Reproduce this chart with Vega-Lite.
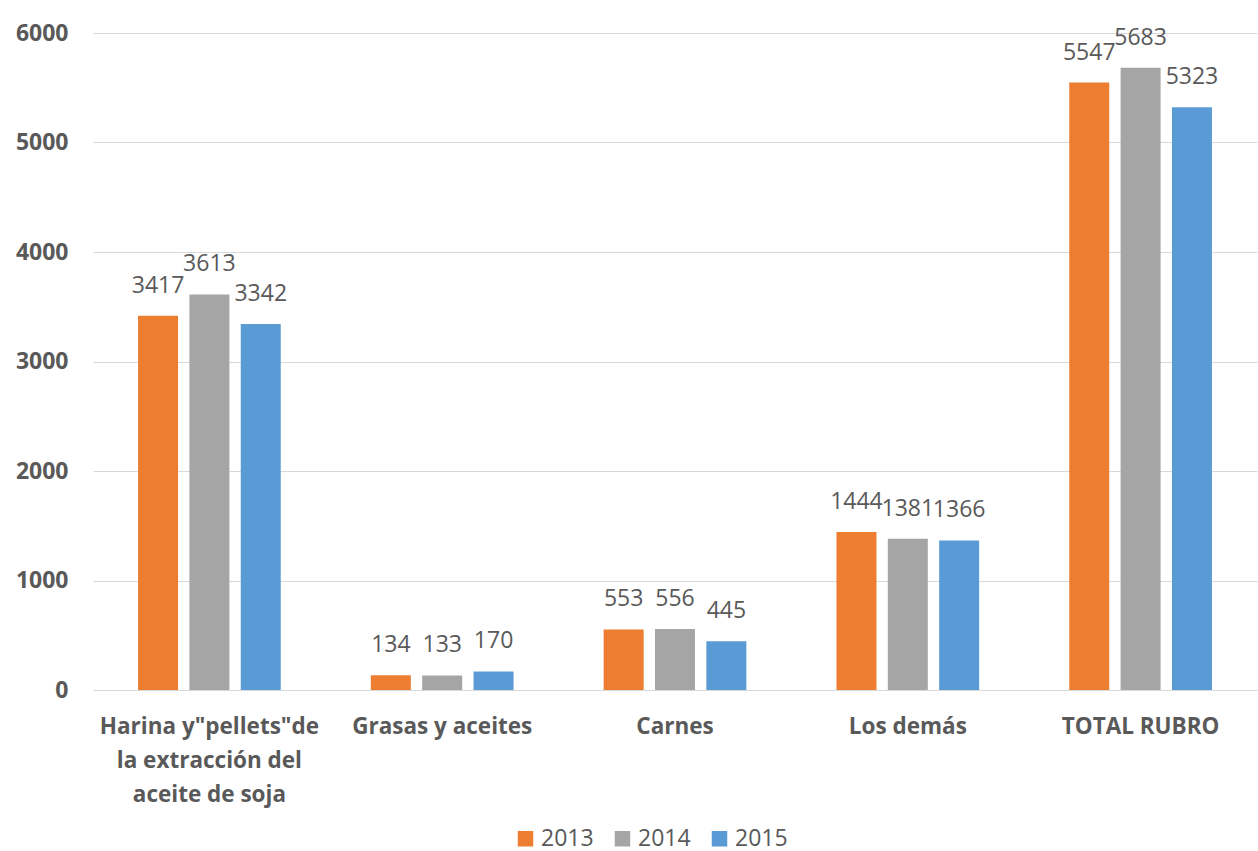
{
  "$schema": "https://vega.github.io/schema/vega-lite/v6.json",
  "width": 1164,
  "height": 657,
  "autosize": {"type": "none"},
  "padding": {"left": 93, "top": 33, "right": 1, "bottom": 161},
  "background": "white",
  "data": {
    "values": [
      {"rubro": "Harina y\"pellets\"de la extracción del aceite de soja", "year": "2013", "value": 3417},
      {"rubro": "Harina y\"pellets\"de la extracción del aceite de soja", "year": "2014", "value": 3613},
      {"rubro": "Harina y\"pellets\"de la extracción del aceite de soja", "year": "2015", "value": 3342},
      {"rubro": "Grasas y aceites", "year": "2013", "value": 134},
      {"rubro": "Grasas y aceites", "year": "2014", "value": 133},
      {"rubro": "Grasas y aceites", "year": "2015", "value": 170},
      {"rubro": "Carnes", "year": "2013", "value": 553},
      {"rubro": "Carnes", "year": "2014", "value": 556},
      {"rubro": "Carnes", "year": "2015", "value": 445},
      {"rubro": "Los demás", "year": "2013", "value": 1444},
      {"rubro": "Los demás", "year": "2014", "value": 1381},
      {"rubro": "Los demás", "year": "2015", "value": 1366},
      {"rubro": "TOTAL RUBRO", "year": "2013", "value": 5547},
      {"rubro": "TOTAL RUBRO", "year": "2014", "value": 5683},
      {"rubro": "TOTAL RUBRO", "year": "2015", "value": 5323}
    ]
  },
  "encoding": {
    "x": {
      "field": "rubro",
      "type": "nominal",
      "sort": null,
      "scale": {"paddingInner": 0.387, "paddingOuter": 0.1935},
      "axis": {
        "title": null,
        "labelAngle": 0,
        "domain": false,
        "ticks": false,
        "labelPadding": 25,
        "labelFont": "Open Sans",
        "labelFontWeight": "bold",
        "labelFontSize": 22.5,
        "labelColor": "#595959",
        "labelLineHeight": 34,
        "labelLimit": 400,
        "labelExpr": "indexof(datum.label, 'Harina') == 0 ? ['Harina y\"pellets\"de', 'la extracción del', 'aceite de soja'] : datum.label"
      }
    },
    "xOffset": {
      "field": "year",
      "type": "nominal",
      "scale": {"paddingInner": 0.221, "paddingOuter": 0}
    },
    "y": {
      "field": "value",
      "type": "quantitative",
      "scale": {"domain": [0, 6000], "nice": false},
      "axis": {
        "title": null,
        "values": [0, 1000, 2000, 3000, 4000, 5000, 6000],
        "format": "d",
        "domain": false,
        "ticks": false,
        "labelPadding": 25,
        "labelFont": "Open Sans",
        "labelFontWeight": "bold",
        "labelFontSize": 23,
        "labelColor": "#595959",
        "gridColor": "#d9d9d9",
        "gridWidth": 1
      }
    }
  },
  "layer": [
    {
      "mark": {"type": "bar"},
      "encoding": {
        "color": {
          "field": "year",
          "type": "nominal",
          "scale": {"domain": ["2013", "2014", "2015"], "range": ["#ED7D31", "#A5A5A5", "#5B9BD5"]},
          "legend": {
            "title": null,
            "orient": "none",
            "direction": "horizontal",
            "legendX": 421,
            "legendY": 794,
            "symbolType": "square",
            "symbolSize": 240,
            "symbolStrokeWidth": 0,
            "labelFont": "Open Sans",
            "labelFontSize": 23,
            "labelColor": "#595959",
            "labelOffset": 4,
            "columnPadding": 17
          }
        }
      }
    },
    {
      "mark": {"type": "text", "baseline": "bottom", "dy": -18, "font": "Open Sans", "fontSize": 23, "color": "#595959"},
      "encoding": {
        "text": {"field": "value", "type": "quantitative", "format": "d"}
      }
    }
  ],
  "config": {
    "view": {"stroke": null}
  }
}
